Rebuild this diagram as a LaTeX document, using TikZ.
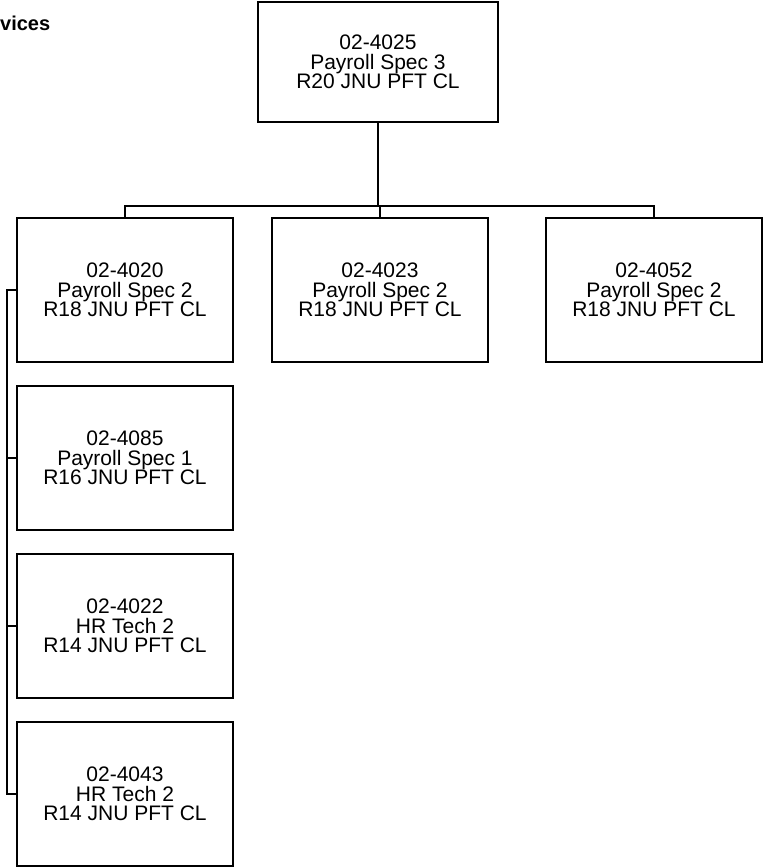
\documentclass[tikz,border=0pt]{standalone}
\usepackage{fontspec}
\setmainfont{Liberation Sans}
\begin{document}
\begin{tikzpicture}[x=1pt,y=-1pt,
  box/.style={draw, line width=2pt, minimum width=216pt, minimum height=144pt,
    align=center, inner sep=0pt, font=\fontsize{21}{19.5}\selectfont},
  link/.style={line width=1.8pt}]
\useasboundingbox (0,0) rectangle (764,867);
\node[anchor=base west, inner sep=0pt, font=\bfseries\fontsize{20}{20}\selectfont] (title) at (0,31) {vices};
\node[box, minimum width=240pt, minimum height=120pt] (top) at (378,62) {02-4025\\Payroll Spec 3\\R20 JNU PFT CL};
\node[box] (a) at (125,290) {02-4020\\Payroll Spec 2\\R18 JNU PFT CL};
\node[box] (b) at (380,290) {02-4023\\Payroll Spec 2\\R18 JNU PFT CL};
\node[box] (c) at (654,290) {02-4052\\Payroll Spec 2\\R18 JNU PFT CL};
\node[box] (d) at (125,458) {02-4085\\Payroll Spec 1\\R16 JNU PFT CL};
\node[box] (e) at (125,626) {02-4022\\HR Tech 2\\R14 JNU PFT CL};
\node[box] (f) at (125,794) {02-4043\\HR Tech 2\\R14 JNU PFT CL};
\coordinate (barL) at (125,206);
\coordinate (barR) at (654,206);
\coordinate (bus) at (7,0);
\draw[link] (top.south) -- (top.south |- barL);
\draw[link] (a.north) -- (barL) -- (barR) -- (c.north);
\draw[link] (b.north) -- (b.north |- barL);
\draw[link] (a.west) -- (a.west -| bus) -- (f.west -| bus) -- (f.west);
\draw[link] (d.west) -- (d.west -| bus);
\draw[link] (e.west) -- (e.west -| bus);
\end{tikzpicture}
\end{document}
